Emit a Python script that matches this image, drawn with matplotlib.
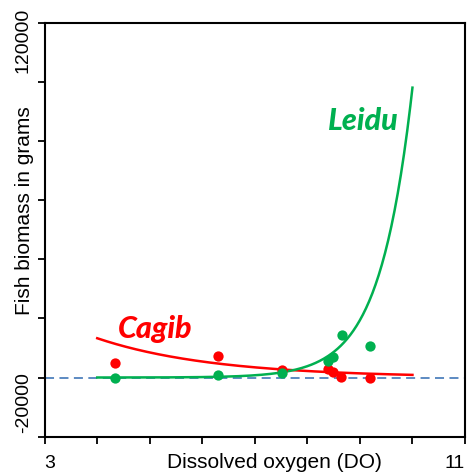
import numpy as np
import matplotlib
matplotlib.use("Agg")
import matplotlib.pyplot as plt
import matplotlib.transforms as mtransforms

# ---- data ----
do_cagib = [4.34, 6.29, 7.51, 8.40, 8.49, 8.64, 9.19]
bio_cagib = [4830, 7400, 2600, 2900, 2000, 100, 0]
do_leidu = [4.34, 6.29, 7.51, 8.40, 8.49, 8.65, 9.19]
bio_leidu = [0, 700, 1450, 5750, 7100, 14400, 10600]

# fitted exponential trend curves: y = A * exp(b * (x - x0))
cagib_fit = dict(A=13280, b=-0.45, x0=4.0, xmin=4.0, xmax=10.0)
leidu_fit = dict(A=98000, b=1.62, x0=10.0, xmin=4.0, xmax=10.0)

x_ticks = [3, 4, 5, 6, 7, 8, 9, 10, 11]
y_ticks = [-20000, 0, 20000, 40000, 60000, 80000, 100000, 120000]
x_tick_labels = ["3", "11"]
y_tick_labels = ["-20000", "120000"]

RED = "#FF0000"
GREEN = "#00B050"
BLUE = "#4F81BD"

plt.rcParams["font.family"] = ["Liberation Sans", "DejaVu Sans"]

fig = plt.figure(figsize=(4.67, 4.76), dpi=100)
ax = fig.add_axes([0.0957, 0.0826, 0.900, 0.870])
ax.set_xlim(3, 11)
ax.set_ylim(-20000, 120000)

# zero reference line
ax.axhline(0, color=BLUE, lw=1.3, ls=(0, (5, 3)), zorder=1)

def curve(p):
    xs = np.linspace(p["xmin"], p["xmax"], 300)
    return xs, p["A"] * np.exp(p["b"] * (xs - p["x0"]))

xs, ys = curve(cagib_fit)
ax.plot(xs, ys, color=RED, lw=1.8, zorder=3)
xs, ys = curve(leidu_fit)
ax.plot(xs, ys, color=GREEN, lw=1.8, zorder=3)

ax.scatter(do_cagib, bio_cagib, s=55, color=RED, zorder=4, linewidths=0)
ax.scatter(do_leidu, bio_leidu, s=55, color=GREEN, zorder=4, linewidths=0)

# ticks
ax.set_xticks(x_ticks)
ax.set_yticks(y_ticks)
ax.set_xticklabels([])
ax.set_yticklabels([])
ax.tick_params(direction="out", length=5, width=1.3, color="black")
for s in ax.spines.values():
    s.set_linewidth(1.5)

# tick labels placed as in the reference
bx = mtransforms.blended_transform_factory(ax.transAxes, ax.transData)
by = mtransforms.blended_transform_factory(ax.transData, ax.transAxes)
ax.text(-0.052, 113900, y_tick_labels[1], rotation=90, ha="center", va="center",
        fontsize=14, transform=bx, clip_on=False)
ax.text(-0.050, -8300, y_tick_labels[0], rotation=90, ha="center", va="center",
        fontsize=14, transform=bx, clip_on=False)
ax.text(3.0, -0.065, x_tick_labels[0], ha="left", va="center", fontsize=14,
        transform=by, clip_on=False)
ax.text(11.0, -0.065, x_tick_labels[1], ha="right", va="center", fontsize=14,
        transform=by, clip_on=False)

ax.text(0.546, -0.063, "Dissolved oxygen (DO)", ha="center", va="center",
        fontsize=15, transform=ax.transAxes, clip_on=False)
ax.text(-0.047, 0.545, "Fish biomass in grams", rotation=90, ha="center", va="center",
        fontsize=15, transform=ax.transAxes, clip_on=False)

ax.text(5.11, 13520, "Cagib", color=RED, fontsize=22, fontweight="black",
        fontstyle="italic", family=["Lato", "DejaVu Sans"], ha="center", va="baseline")
ax.text(9.07, 83830, "Leidu", color=GREEN, fontsize=22, fontweight="black",
        fontstyle="italic", family=["Lato", "DejaVu Sans"], ha="center", va="baseline")

fig.savefig("out.png", dpi=100)
